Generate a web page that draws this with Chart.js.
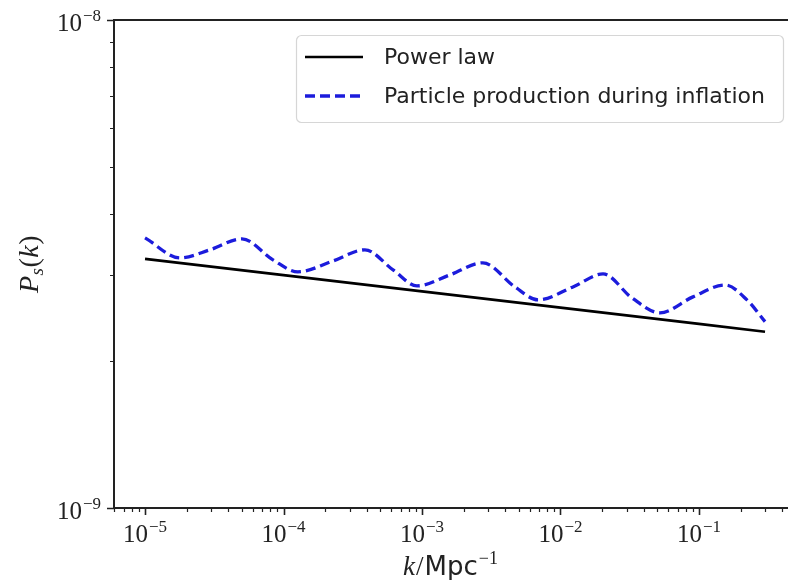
<!DOCTYPE html>
<html>
<head>
<meta charset="utf-8">
<script src="https://cdn.jsdelivr.net/npm/chart.js@4.4.0/dist/chart.umd.min.js"></script>
<style>
  html, body { margin: 0; padding: 0; background: #fff; overflow: hidden; }
  #wrap { width: 800px; height: 580px; }
</style>
</head>
<body>
<div id="wrap"><canvas id="chart" width="800" height="580"></canvas></div>
<script>
// values (k in Mpc^-1, P_s dimensionless)
const K_POWER = [1e-5, 1e-4, 1e-3, 1e-2, 1e-1, 0.3];
const P_POWER = [3.24e-9, 3.0e-9, 2.78e-9, 2.574e-9, 2.384e-9, 2.297e-9];

const K_PP = [1.0e-5, 1.79e-5, 2.94e-5, 5.01e-5, 8.39e-5, 1.27e-4, 2.28e-4, 3.87e-4,
  6.18e-4, 9.2e-4, 1.59e-3, 2.75e-3, 4.69e-3, 6.89e-3, 1.23e-2, 2.03e-2, 3.28e-2,
  5.23e-2, 9.05e-2, 0.154, 0.222, 0.3];
const P_PP = [3.578e-9, 3.255e-9, 3.381e-9, 3.561e-9, 3.224e-9, 3.047e-9, 3.209e-9, 3.381e-9,
  3.076e-9, 2.852e-9, 3.004e-9, 3.18e-9, 2.838e-9, 2.67e-9, 2.838e-9, 3.018e-9, 2.695e-9,
  2.512e-9, 2.708e-9, 2.865e-9, 2.67e-9, 2.41e-9];

const X_MAJOR = [1e-5, 1e-4, 1e-3, 1e-2, 1e-1];
const X_EXP = ["\u22125", "\u22124", "\u22123", "\u22122", "\u22121"];
const Y_MAJOR = [1e-9, 1e-8];
const Y_EXP = ["\u22129", "\u22128"];

const X_MIN = 5.97e-6, X_MAX = 0.502;
const Y_MIN = 1e-9, Y_MAX = 1e-8;

const INK = "#222222";
const SERIF = "'Liberation Serif', 'DejaVu Serif', serif";
const SANS = "'DejaVu Sans', sans-serif";

function toPoints(xs, ys) {
  return xs.map((x, i) => ({ x, y: ys[i] }));
}

function minorTicks(min, max) {
  const out = [];
  for (let e = Math.floor(Math.log10(min)); e <= Math.ceil(Math.log10(max)); e++) {
    for (let m = 2; m <= 9; m++) {
      const v = m * Math.pow(10, e);
      if (v >= min && v <= max) out.push(v);
    }
  }
  return out;
}

// draws "10" with a raised exponent, centred or right-aligned at (x, baseline)
function drawPow(ctx, x, base, exp, align) {
  ctx.font = "25px " + SERIF;
  const w1 = ctx.measureText("10").width;
  ctx.font = "17px " + SERIF;
  const w2 = ctx.measureText(exp).width + 1;
  const total = w1 + w2;
  const x0 = align === "right" ? x - total : x - total / 2;
  ctx.font = "25px " + SERIF;
  ctx.fillText("10", x0, base);
  ctx.font = "17px " + SERIF;
  ctx.fillText(exp, x0 + w1 + 1, base - 10);
}

const axesPlugin = {
  id: "mplAxes",
  afterDraw(chart) {
    const { ctx, chartArea: a, scales } = chart;
    const xs = scales.x, ys = scales.y;
    ctx.save();
    ctx.strokeStyle = INK;
    ctx.fillStyle = INK;
    ctx.textAlign = "left";
    ctx.textBaseline = "alphabetic";

    // spines (right one falls just outside the photographed area)
    ctx.lineWidth = 2;
    ctx.strokeRect(a.left, a.top, a.right - a.left, a.bottom - a.top);

    // ticks
    ctx.beginPath();
    ctx.lineWidth = 1.6;
    X_MAJOR.forEach(v => {
      const px = Math.round(xs.getPixelForValue(v)) + 0.5;
      ctx.moveTo(px, a.bottom); ctx.lineTo(px, a.bottom + 7);
    });
    Y_MAJOR.forEach(v => {
      const py = Math.round(ys.getPixelForValue(v)) + 0.5;
      ctx.moveTo(a.left, py); ctx.lineTo(a.left - 7, py);
    });
    ctx.stroke();
    ctx.beginPath();
    ctx.lineWidth = 1.2;
    minorTicks(X_MIN, X_MAX).forEach(v => {
      const px = Math.round(xs.getPixelForValue(v)) + 0.5;
      ctx.moveTo(px, a.bottom); ctx.lineTo(px, a.bottom + 4);
    });
    minorTicks(Y_MIN, Y_MAX).forEach(v => {
      const py = Math.round(ys.getPixelForValue(v)) + 0.5;
      ctx.moveTo(a.left, py); ctx.lineTo(a.left - 4, py);
    });
    ctx.stroke();

    // tick labels
    X_MAJOR.forEach((v, i) => drawPow(ctx, xs.getPixelForValue(v), a.bottom + 34, X_EXP[i], "center"));
    Y_MAJOR.forEach((v, i) => drawPow(ctx, a.left - 13, ys.getPixelForValue(v) + 11, Y_EXP[i], "right"));

    // x label: k/Mpc^-1
    const parts = [
      { t: "k", f: "italic 27px " + SERIF, dy: 0 },
      { t: "/", f: "27px " + SERIF, dy: 0 },
      { t: "Mpc", f: "26px " + SANS, dy: 0 },
      { t: "\u22121", f: "18px " + SERIF, dy: -11 },
    ];
    let tw = 0;
    parts.forEach(p => { ctx.font = p.f; p.w = ctx.measureText(p.t).width + 1; tw += p.w; });
    let cx = 451 - tw / 2;
    parts.forEach(p => { ctx.font = p.f; ctx.fillText(p.t, cx, 575 + p.dy); cx += p.w; });

    // y label: P_s(k), rotated
    ctx.translate(38, (a.top + a.bottom) / 2);
    ctx.rotate(-Math.PI / 2);
    const yp = [
      { t: "P", f: "italic 28px " + SERIF, dy: 0 },
      { t: "s", f: "italic 19px " + SERIF, dy: 5 },
      { t: "(", f: "28px " + SERIF, dy: 0 },
      { t: "k", f: "italic 28px " + SERIF, dy: 0 },
      { t: ")", f: "28px " + SERIF, dy: 0 },
    ];
    tw = 0;
    yp.forEach(p => { ctx.font = p.f; p.w = ctx.measureText(p.t).width + 0.5; tw += p.w; });
    cx = -tw / 2;
    yp.forEach(p => { ctx.font = p.f; ctx.fillText(p.t, cx, p.dy); cx += p.w; });
    ctx.restore();
  },
  afterDatasetsDraw(chart) {
    // legend box in the upper right of the axes
    const { ctx } = chart;
    const bx = 296.5, by = 35.5, bw = 487, bh = 87, r = 5;
    ctx.save();
    ctx.beginPath();
    ctx.roundRect(bx, by, bw, bh, r);
    ctx.fillStyle = "rgba(255,255,255,0.8)";
    ctx.fill();
    ctx.strokeStyle = "#d6d6d6";
    ctx.lineWidth = 1.2;
    ctx.stroke();
    chart.data.datasets.forEach((ds, i) => {
      const ly = 57 + i * 39;
      ctx.beginPath();
      ctx.strokeStyle = ds.borderColor;
      ctx.lineWidth = ds.borderWidth;
      ctx.setLineDash(ds.borderDash || []);
      ctx.moveTo(305, ly); ctx.lineTo(363, ly);
      ctx.stroke();
      ctx.setLineDash([]);
      ctx.fillStyle = INK;
      ctx.font = "22px " + SANS;
      ctx.textBaseline = "middle";
      ctx.fillText(ds.label, 384, ly + 1);
    });
    ctx.restore();
  },
};

new Chart(document.getElementById("chart"), {
  type: "line",
  data: {
    datasets: [
      {
        label: "Power law",
        data: toPoints(K_POWER, P_POWER),
        borderColor: "#000000",
        borderWidth: 2.7,
        pointRadius: 0,
        tension: 0,
      },
      {
        label: "Particle production during inflation",
        data: toPoints(K_PP, P_PP),
        borderColor: "#1c1cdc",
        borderWidth: 3.3,
        borderDash: [10, 5],
        pointRadius: 0,
        cubicInterpolationMode: "monotone",
      },
    ],
  },
  options: {
    responsive: false,
    animation: false,
    devicePixelRatio: 1,
    layout: { padding: { left: 114, top: 20, right: 4, bottom: 72 } },
    scales: {
      x: { type: "logarithmic", display: false, min: X_MIN, max: X_MAX },
      y: { type: "logarithmic", display: false, min: Y_MIN, max: Y_MAX },
    },
    plugins: { legend: { display: false }, tooltip: { enabled: false } },
  },
  plugins: [axesPlugin],
});
</script>
</body>
</html>
